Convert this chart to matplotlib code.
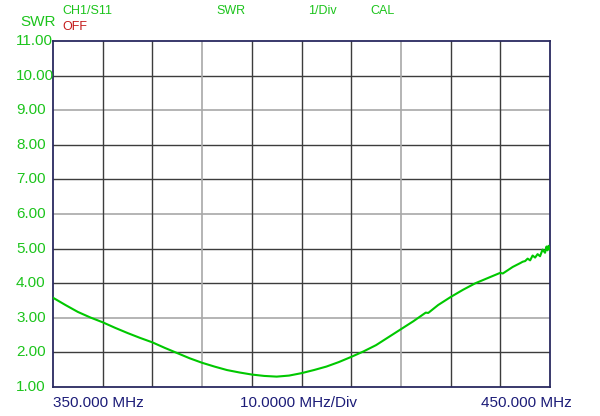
import matplotlib
matplotlib.use("Agg")
import matplotlib.pyplot as plt
import matplotlib.transforms as mtransforms

plt.rcParams["font.family"] = ["Liberation Sans", "DejaVu Sans"]

# --- data ---
freq_mhz = [350, 352.5, 355, 357.5, 360, 362.5, 365, 367.5, 370, 372.5,
            375, 377.5, 380, 382.5, 385, 387.5, 390, 392.5, 395, 397.5,
            400, 402.5, 405, 407.5, 410, 412.5, 415, 417.5, 420, 422.5,
            424.5, 425, 425.5, 427.5, 430, 432.5, 435, 437.5, 440, 440.5,
            442.5, 444, 444.5, 445, 445.5, 446, 446.5, 447, 447.5, 448,
            448.5, 449, 449.3, 449.5, 449.7, 450]
swr = [3.58, 3.37, 3.17, 3.01, 2.87, 2.71, 2.56, 2.42, 2.29, 2.13,
       1.98, 1.83, 1.70, 1.59, 1.49, 1.42, 1.36, 1.32, 1.30, 1.33,
       1.40, 1.49, 1.59, 1.72, 1.87, 2.03, 2.21, 2.44, 2.67, 2.90,
       3.10, 3.15, 3.14, 3.37, 3.60, 3.81, 4.00, 4.15, 4.30, 4.28,
       4.47, 4.58, 4.62, 4.64, 4.71, 4.66, 4.80, 4.74, 4.84, 4.78,
       4.97, 4.88, 5.06, 4.95, 5.08, 4.98]

swr_ticks = [1, 2, 3, 4, 5, 6, 7, 8, 9, 10, 11]
freq_grid = [350, 360, 370, 380, 390, 400, 410, 420, 430, 440, 450]
light_swr = [3, 6, 9]
light_freq = [380, 420]

green = "#1cc41c"
navy = "#1c1c78"

fig = plt.figure(figsize=(6, 4.16), dpi=100, facecolor="white")
ax = fig.add_axes([53 / 600, 1 - 387 / 416, 497 / 600, 346 / 416])
ax.set_xlim(350, 450)
ax.set_ylim(1, 11)

# grid, light lines on every third division
for v in swr_ticks[1:-1]:
    c = "#a8a8a8" if v in light_swr else "#3c3c3c"
    ax.axhline(v, color=c, linewidth=1.2 if v in light_swr else 1.0, zorder=1)
for f in freq_grid[1:-1]:
    c = "#a8a8a8" if f in light_freq else "#3c3c3c"
    ax.axvline(f, color=c, linewidth=1.2 if f in light_freq else 1.0, zorder=1)

ax.plot(freq_mhz, swr, color="#00c800", linewidth=1.5, zorder=3)

for s in ax.spines.values():
    s.set_color("#2a2a60")
    s.set_linewidth(1.3)
ax.set_xticks([])
ax.set_yticks([])

# y labels, left aligned like the instrument display
trans = mtransforms.blended_transform_factory(fig.transFigure, ax.transData)
for v in swr_ticks:
    ax.text(16 / 600, v, f"{v:.2f}", transform=trans, ha="left", va="center",
            color=green, fontsize=11, clip_on=False)

# header texts
fig.text(20 / 600, 1 - 22 / 416, "SWR", color=green, fontsize=11, va="center")
fig.text(62 / 600, 1 - 11 / 416, "CH1/S11", color=green, fontsize=9, va="center")
fig.text(62 / 600, 1 - 27 / 416, "OFF", color="#c41c1c", fontsize=9, va="center")
fig.text(216 / 600, 1 - 11 / 416, "SWR", color=green, fontsize=9, va="center")
fig.text(308 / 600, 1 - 11 / 416, "1/Div", color=green, fontsize=9, va="center")
fig.text(370 / 600, 1 - 11 / 416, "CAL", color=green, fontsize=9, va="center")

# footer texts
fig.text(53 / 600, 1 - 403 / 416, "350.000 MHz", color=navy, fontsize=11, va="center")
fig.text(298 / 600, 1 - 403 / 416, "10.0000 MHz/Div", color=navy, fontsize=11,
         va="center", ha="center")
fig.text(572 / 600, 1 - 403 / 416, "450.000 MHz", color=navy, fontsize=11,
         va="center", ha="right")

fig.savefig("out.png", dpi=100)
